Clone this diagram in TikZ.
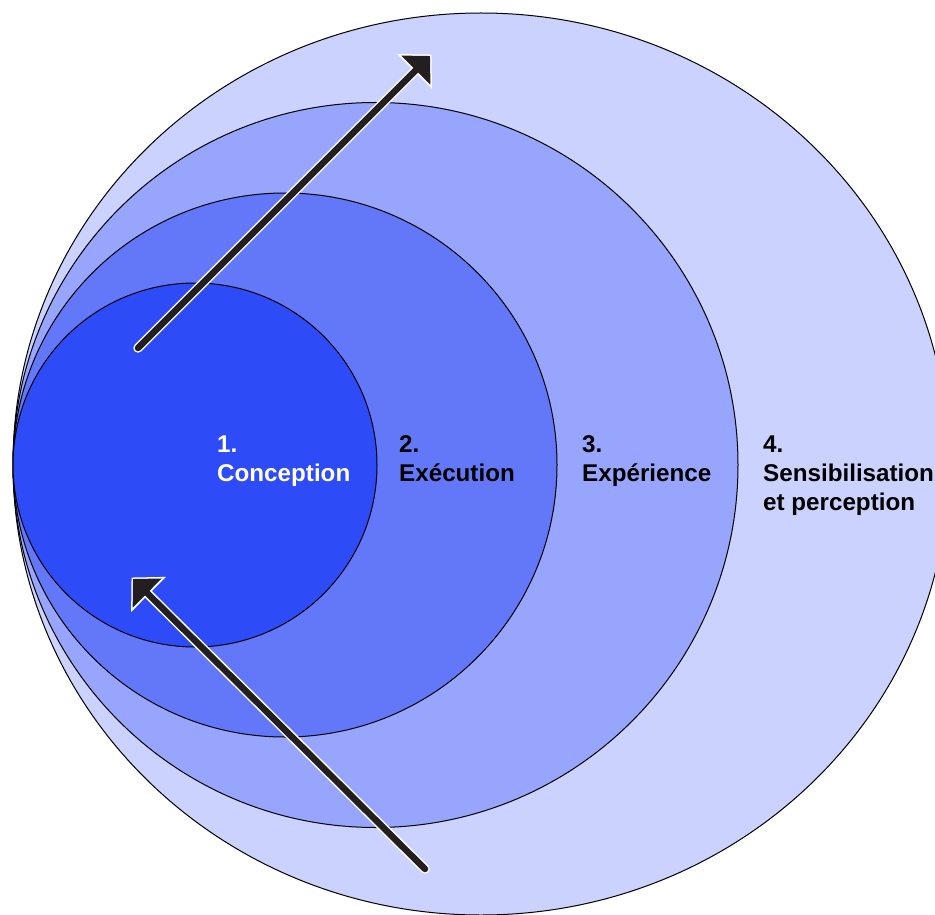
\documentclass[tikz,border=0pt]{standalone}
\usepackage{fontspec}
\setmainfont{Liberation Sans}
\usetikzlibrary{arrows.meta,calc}
\definecolor{cA}{RGB}{46,75,248}
\definecolor{cB}{RGB}{98,120,249}
\definecolor{cC}{RGB}{151,166,252}
\definecolor{cD}{RGB}{203,210,253}
\definecolor{ink}{RGB}{35,31,32}
\tikzset{
  ring/.style={draw=black, line width=1pt},
  lbl/.style={anchor=base west, inner sep=0pt, align=left, font=\fontsize{24.2}{29}\selectfont\bfseries},
  arrwhite/.style={draw=white, line width=9.5pt, line cap=round, -{Triangle[length=24pt,width=48pt]}},
  arrdark/.style={draw=ink, line width=6.5pt, line cap=round, -{Triangle[length=20pt,width=40pt]}}
}
\begin{document}
\begin{tikzpicture}[x=1pt,y=-1pt]
\useasboundingbox (0,0) rectangle (935,915);
\clip (0,0) rectangle (935,915);
\fill[white] (0,0) rectangle (935,915);
\draw[ring, fill=cD] (481,464) ellipse [x radius=468, y radius=451];
\draw[ring, fill=cC] (375.5,465) circle [radius=362.5];
\draw[ring, fill=cB] (285,465) circle [radius=272];
\draw[ring, fill=cA] (195,465) circle [radius=182];
\node[lbl, text=white] (t1) at (217,481) {1.\\Conception};
\node[lbl] (t2) at (399,481) {2.\\Exécution};
\node[lbl] (t3) at (582,481) {3.\\Expérience};
\node[lbl] (t4) at (763,510) {4.\\Sensibilisation\\et perception};
\coordinate (a1s) at (138,348);
\coordinate (a1e) at (430,56);
\coordinate (a2s) at (425,869);
\coordinate (a2e) at (133,579);
\draw[arrwhite] (a1s) -- ($(a1e)+(1.5,-1.5)$);
\draw[arrdark] (a1s) -- (a1e);
\draw[arrwhite] (a2s) -- ($(a2e)+(-1.5,-1.5)$);
\draw[arrdark] (a2s) -- (a2e);
\end{tikzpicture}
\end{document}
